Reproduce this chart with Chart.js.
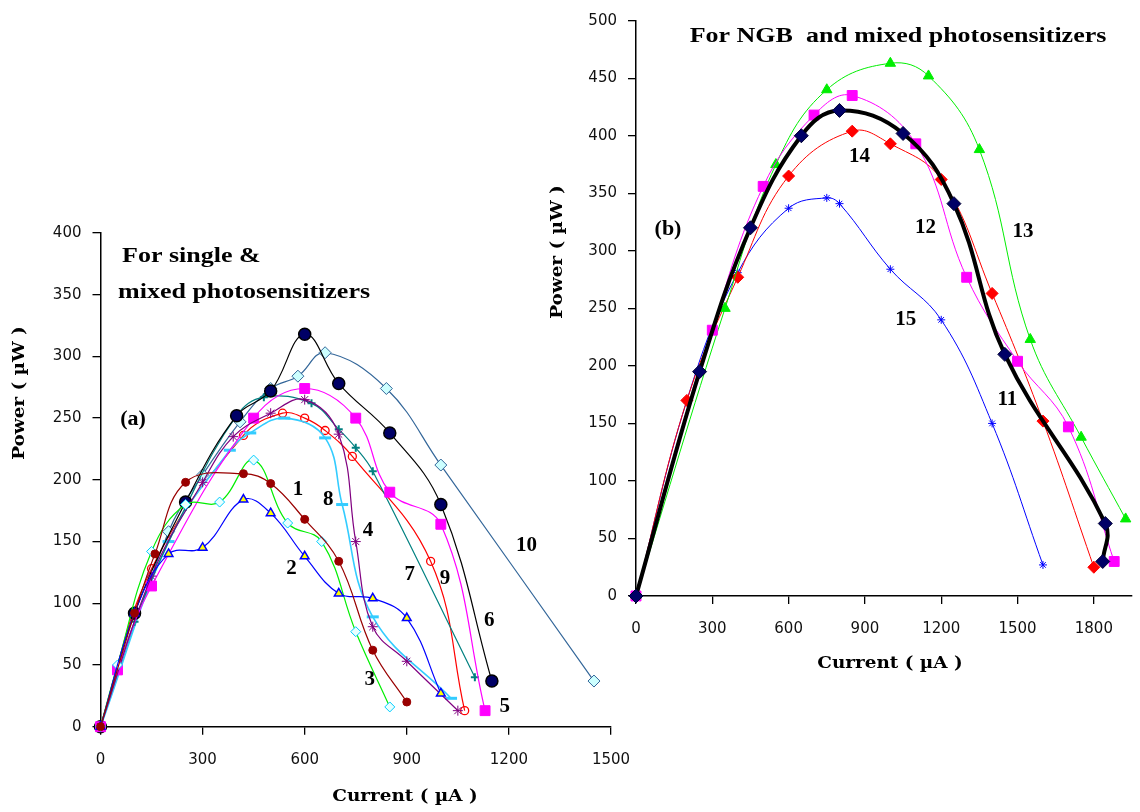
<!DOCTYPE html>
<html>
<head>
<meta charset="UTF-8"/>
<script src="https://cdn.jsdelivr.net/npm/chart.js@4.4.0/dist/chart.umd.min.js"></script>
<style>
body{margin:0;background:#fff;}
#wrap{position:relative;width:1140px;height:812px;}
canvas{position:absolute;left:0;top:0;}
</style>
</head>
<body>
<div id="wrap">
<canvas id="chartA" width="1140" height="812"></canvas>
<canvas id="chartB" width="1140" height="812"></canvas>
</div>
<script>
// panel (a): current (uA) and power (uW) for curves 1-10
const s1x=[0,100,160,250,420,500,600,700,800,900];
const s1y=[0,92,140,198,205,197,168,134,62,20];
const s2x=[0,100,200,300,420,500,600,700,800,900,1000];
const s2y=[0,92,140,145,184,173,138,108,104,88,27];
const s3x=[0,50,150,250,350,450,550,650,750,850];
const s3y=[0,50,142,180,182,216,165,150,77,16];
const s4x=[0,150,300,390,500,600,700,750,800,900,1050];
const s4y=[0,122,198,235,254,265,237,150,81,53,13];
const s5x=[0,50,150,450,600,750,850,1000,1130];
const s5y=[0,46,114,250,274,250,190,164,13];
const s6x=[0,100,250,400,500,600,700,850,1000,1150];
const s6y=[0,92,182,252,272,318,278,238,180,37];
const s7x=[0,100,250,400,480,620,700,750,800,1100];
const s7y=[0,85,178,252,267,262,241,226,207,40];
const s8x=[0,200,380,440,540,660,710,800,1030];
const s8y=[0,150,224,238,250,234,180,89,23];
const s9x=[0,150,420,535,600,660,740,970,1070];
const s9y=[0,128,236,254,250,240,219,134,13];
const s10x=[0,200,300,410,500,580,660,840,1000,1450];
const s10y=[0,158,204,247,274,284,303,274,212,37];

// panel (b): curves 11-15
const s11x=[0,250,450,650,800,1050,1250,1450,1845,1835];
const s11y=[0,195,320,400,422,402,341,210,63,30];
const s12x=[0,300,500,700,850,1100,1300,1500,1700,1880];
const s12y=[0,231,356,418,435,393,277,204,147,30];
const s13x=[0,350,550,750,1000,1150,1350,1550,1750,1925];
const s13y=[0,250,375,440,463,452,388,223,138,67];
const s14x=[0,200,400,600,850,1000,1200,1400,1600,1800];
const s14y=[0,170,277,365,404,393,362,263,152,25];
const s15x=[0,200,400,600,750,800,1000,1200,1400,1600];
const s15y=[0,170,281,337,346,341,284,240,150,27];

const ticksAx=[0,300,600,900,1200,1500];
const ticksAy=[0,50,100,150,200,250,300,350,400];
const ticksBx=[0,300,600,900,1200,1500,1800];
const ticksBy=[0,50,100,150,200,250,300,350,400,450,500];

const labelsA=[
  {text:'1',x:580,y:192},{text:'2',x:561,y:128},{text:'3',x:791,y:38},
  {text:'4',x:786,y:159},{text:'5',x:1188,y:16},{text:'6',x:1142,y:86},
  {text:'7',x:909,y:123},{text:'8',x:669,y:184},{text:'9',x:1012,y:120},
  {text:'10',x:1252,y:147}
];
const labelsB=[
  {text:'14',x:879,y:382},{text:'12',x:1138,y:320},{text:'13',x:1521,y:317},
  {text:'15',x:1061,y:240},{text:'11',x:1460,y:171}
];

function pts(xs,ys){ return xs.map((x,i)=>({x:x,y:ys[i]})); }

function series(label,xs,ys,color,extra){
  return Object.assign({
    label:label,
    data:pts(xs,ys),
    borderColor:color,
    backgroundColor:color,
    borderWidth:1.2,
    tension:0.4,
    clip:false,
    pointBorderColor:color,
    pointBackgroundColor:color,
    pointBorderWidth:1,
    pointRadius:4
  },extra||{});
}

const tickFont={family:'DejaVu Sans',size:15};

function scales(xMax,yMax,xt,yt,yWidth,xHeight){
  return {
    x:{type:'linear',min:0,max:xMax,
      grid:{drawOnChartArea:false,color:'#000',tickLength:8,lineWidth:1.3},
      border:{color:'#000',width:1.5},
      ticks:{font:tickFont,color:'#111',padding:16,maxRotation:0,autoSkip:false,callback:v=>String(v)},
      afterBuildTicks:s=>{ s.ticks=xt.map(v=>({value:v})); },
      afterFit:s=>{ s.height=xHeight; }
    },
    y:{type:'linear',min:0,max:yMax,
      grid:{drawOnChartArea:false,color:'#000',tickLength:8,lineWidth:1.3},
      border:{color:'#000',width:1.5},
      ticks:{font:tickFont,color:'#111',padding:11,autoSkip:false,callback:v=>String(v)},
      afterBuildTicks:s=>{ s.ticks=yt.map(v=>({value:v})); },
      afterFit:s=>{ s.width=yWidth; }
    }
  };
}

const notes={
  id:'notes',
  afterDatasetsDraw(chart,args,opts){
    const ctx=chart.ctx, sx=chart.scales.x, sy=chart.scales.y;
    ctx.save();
    ctx.fillStyle='#000';
    ctx.textBaseline='middle';
    ctx.textAlign='center';
    ctx.font='bold 21px "Liberation Serif"';
    opts.series.forEach(n=>{
      ctx.fillText(n.text,sx.getPixelForValue(n.x),sy.getPixelForValue(n.y));
    });
    opts.texts.forEach(t=>{
      ctx.save();
      ctx.translate(t.px,t.py);
      if(t.rot) ctx.rotate(-Math.PI/2);
      ctx.scale(t.sx||1,1);
      ctx.font=t.font;
      ctx.textAlign=t.align||'center';
      ctx.fillText(t.text,0,0);
      ctx.restore();
    });
    ctx.restore();
  }
};

const titleFont='bold 20px "Liberation Serif"';
const axisFont='bold 16px "DejaVu Serif"';

new Chart(document.getElementById('chartA'),{
  type:'line',
  data:{datasets:[
    series('1',s1x,s1y,'#990000',{pointStyle:'circle',pointRadius:4}),
    series('2',s2x,s2y,'#0000FF',{pointStyle:'triangle',pointRadius:5,pointBackgroundColor:'#FFFF00',pointBorderWidth:1.5}),
    series('3',s3x,s3y,'#00EE00',{pointStyle:'rectRot',pointRadius:5,pointBorderColor:'#00CCFF',pointBackgroundColor:'#E8FFFF'}),
    series('4',s4x,s4y,'#800080',{pointStyle:'star',pointRadius:5}),
    series('5',s5x,s5y,'#FF00FF',{pointStyle:'rect',pointRadius:7}),
    series('6',s6x,s6y,'#000000',{pointStyle:'circle',pointRadius:6,pointBackgroundColor:'#000066',pointBorderWidth:1.5}),
    series('7',s7x,s7y,'#008080',{pointStyle:'cross',pointRadius:4,pointBorderWidth:2}),
    series('8',s8x,s8y,'#33CCFF',{borderWidth:1.6,pointStyle:'line',pointRadius:6,pointBorderWidth:3}),
    series('9',s9x,s9y,'#FF0000',{pointStyle:'circle',pointRadius:4,pointBackgroundColor:'rgba(255,255,255,0)',pointBorderWidth:1.3}),
    series('10',s10x,s10y,'#336699',{pointStyle:'rectRot',pointRadius:6,pointBackgroundColor:'#CCFFFF'})
  ]},
  options:{
    responsive:false,animation:false,devicePixelRatio:1,
    layout:{padding:{left:0,top:233,right:529,bottom:0}},
    plugins:{legend:{display:false},tooltip:{enabled:false},
      notes:{series:labelsA,texts:[
        {text:'For single &',px:122,py:257,align:'left',font:titleFont,sx:1.3},
        {text:'mixed photosensitizers',px:118,py:293,align:'left',font:titleFont,sx:1.3},
        {text:'(a)',px:133,py:420,font:titleFont,sx:1.1},
        {text:'Power ( \u00b5W )',px:20,py:393,rot:true,font:axisFont,sx:1.15},
        {text:'Current ( \u00b5A )',px:405,py:797,font:axisFont,sx:1.15}
      ]}},
    scales:scales(1500,400,ticksAx,ticksAy,100.5,85.3)
  },
  plugins:[notes]
});

new Chart(document.getElementById('chartB'),{
  type:'line',
  data:{datasets:[
    series('11',s11x,s11y,'#000000',{borderWidth:4,pointStyle:'rectRot',pointRadius:7,pointBackgroundColor:'#000066',pointBorderColor:'#000033'}),
    series('12',s12x,s12y,'#FF00FF',{borderWidth:1,pointStyle:'rect',pointRadius:7}),
    series('13',s13x,s13y,'#00EE00',{borderWidth:1,pointStyle:'triangle',pointRadius:6}),
    series('14',s14x,s14y,'#FF0000',{borderWidth:1,pointStyle:'rectRot',pointRadius:6}),
    series('15',s15x,s15y,'#0000FF',{borderWidth:1,pointStyle:'star',pointRadius:4})
  ]},
  options:{
    responsive:false,animation:false,devicePixelRatio:1,
    layout:{padding:{left:540,top:20.7,right:0,bottom:0}},
    plugins:{legend:{display:false},tooltip:{enabled:false},
      notes:{series:labelsB,texts:[
        {text:'For NGB  and mixed photosensitizers',px:898,py:37,font:titleFont,sx:1.3},
        {text:'(b)',px:668,py:230,font:titleFont,sx:1.1},
        {text:'Power ( \u00b5W )',px:558,py:252,rot:true,font:axisFont,sx:1.15},
        {text:'Current ( \u00b5A )',px:890,py:664,font:axisFont,sx:1.15}
      ]}},
    scales:scales(1950,500,ticksBx,ticksBy,96,216)
  },
  plugins:[notes]
});
</script>
</body>
</html>
